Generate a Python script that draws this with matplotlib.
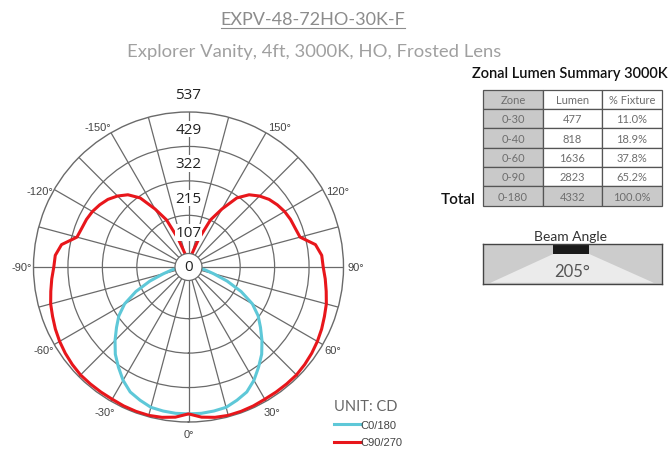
import numpy as np
import matplotlib
matplotlib.use("Agg")
import matplotlib.pyplot as plt
from matplotlib.patches import Circle, Rectangle, Polygon
from matplotlib.lines import Line2D

# ---------------- data ----------------
title = "EXPV-48-72HO-30K-F"
subtitle = "Explorer Vanity, 4ft, 3000K, HO, Frosted Lens"

angles_deg = [0, 5, 10, 15, 20, 25, 30, 35, 40, 45, 50, 55, 60, 65, 70, 75, 80, 85, 90,
              95, 100, 105, 110, 115, 120, 125, 130, 135, 140, 145, 150, 155, 160, 165,
              170, 175, 180]
# candela, C90/270 plane (red)
c90_270 = [458, 470, 476, 479, 479, 478, 476, 476, 476, 476, 473, 469, 464, 458, 451, 445,
           436, 428, 420, 417, 402, 360, 354, 351, 346, 338, 328, 313, 294, 263, 209, 162,
           93, 44, 16, 3, 0]
# candela, C0/180 plane (cyan)
c0_180 = [458, 458, 456, 453, 442, 430, 408, 381, 355, 324, 293, 265, 230, 181, 128, 81,
          53, 34, 19, 6, 0, 0, 0, 0, 0, 0, 0, 0, 0, 0, 0, 0, 0, 0, 0, 0, 0]

ring_labels = ["0", "107", "215", "322", "429", "537"]
ring_step = 107.4
angle_labels = [-150, -120, -90, -60, -30, 0, 30, 60, 90, 120, 150]

zone_header = ["Zone", "Lumen", "% Fixture"]
zones = ["0-30", "0-40", "0-60", "0-90", "0-180"]
lumens = ["477", "818", "1636", "2823", "4332"]
pct_fixture = ["11.0%", "18.9%", "37.8%", "65.2%", "100.0%"]
beam_angle = "205°"

# ---------------- figure ----------------
W, H = 670, 452
fig = plt.figure(figsize=(W / 100, H / 100), dpi=100)
fig.patch.set_facecolor("white")

def fx(px):
    return px / W

def fy(py):
    return 1 - py / H

TITLE_FONT = ["Lato", "DejaVu Sans"]
RED = "#e8161b"
CYAN = "#5ec8d8"
GRID = "#6a6a6a"

# polar chart
cx, cy, R = 188.5, 268, 155
ax = fig.add_axes([fx(cx - R), fy(cy + R), 2 * R / W, 2 * R / H], projection="polar")
ax.set_theta_zero_location("S")
ax.set_theta_direction(1)
rmax = 4.5 * ring_step
ax.set_ylim(0, rmax)
ax.set_rgrids([1.5 * ring_step, 2.5 * ring_step, 3.5 * ring_step], labels=["", "", ""])
ax.set_thetagrids(np.arange(0, 360, 15), labels=[""] * 24)
ax.grid(True, color=GRID, lw=0.9)
ax.spines["polar"].set_color(GRID)
ax.spines["polar"].set_linewidth(1.0)
ax.tick_params(length=0)

a = np.array(angles_deg, dtype=float)
theta_full = np.deg2rad(np.concatenate([-a[::-1], a[1:]]))
red_full = np.concatenate([np.array(c90_270)[::-1], np.array(c90_270)[1:]])
cyan_full = np.concatenate([np.array(c0_180)[::-1], np.array(c0_180)[1:]])

l_cyan, = ax.plot(theta_full, cyan_full, color=CYAN, lw=2.2, zorder=3, label="C0/180",
                  solid_joinstyle="round")
l_red, = ax.plot(theta_full, red_full, color=RED, lw=2.2, zorder=4, label="C90/270",
                 solid_joinstyle="round")

# center hole
ax.add_patch(Circle((0.5, 0.5), 13.5 / (2 * R), transform=ax.transAxes, facecolor="white",
                    edgecolor=GRID, lw=0.9, zorder=6))

# radial labels
for k, lab in enumerate(ring_labels):
    ax.text(np.pi, k * ring_step, lab, ha="center", va="center", fontsize=11,
            family=["Open Sans", "DejaVu Sans"], color="#222222", zorder=7,
            bbox=dict(facecolor="white", edgecolor="none", pad=0.6) if k > 0 else None,
            clip_on=False)

# angle labels (upper ones sit a little nearer the horizontal in the reference)
r_lab = 167 / R * rmax
for ang in angle_labels:
    pos = ang - np.sign(ang) * 3 if abs(ang) > 90 else ang
    ax.text(np.deg2rad(pos), r_lab, f"{ang}°", ha="center", va="center", fontsize=8,
            family=["Liberation Sans", "DejaVu Sans"], color="#444444", clip_on=False)

# legend
leg = fig.legend(handles=[l_cyan, l_red], labels=["C0/180", "C90/270"], title="UNIT: CD",
                 loc="upper left", bbox_to_anchor=(fx(334), fy(400)), frameon=False,
                 handlelength=2.4, handletextpad=0.0, labelspacing=0.65, fontsize=8,
                 title_fontsize=10.5, alignment="left", borderpad=0, borderaxespad=0)
leg.get_title().set_color("#666666")
leg.get_title().set_family(["Lato", "DejaVu Sans"])
for t in leg.get_texts():
    t.set_color("#444444")
    t.set_family(["Liberation Sans", "DejaVu Sans"])

# titles
t1 = fig.text(fx(313), fy(20), title, ha="center", va="center", fontsize=13,
              family=TITLE_FONT, fontweight="normal", color="#8c8c8c")
fig.text(fx(314), fy(52), subtitle, ha="center", va="center", fontsize=13.3,
         family=TITLE_FONT, fontweight="normal", color="#a0a0a0")
fig.text(fx(668), fy(74), "Zonal Lumen Summary 3000K", ha="right", va="center",
         fontsize=10.5, family=TITLE_FONT, fontweight="semibold", color="#111111")
fig.text(fx(458), fy(200), "Total", ha="center", va="center", fontsize=11,
         family=TITLE_FONT, fontweight="semibold", color="#111111")

# underline the title
fig.canvas.draw()
bb = t1.get_window_extent(fig.canvas.get_renderer())
fig.add_artist(Line2D([bb.x0 / W, bb.x1 / W], [(bb.y0 - 1) / H] * 2, color="#8c8c8c", lw=0.8))

# table
tl, tt, tr, tb = 483.3, 90.7, 661.7, 206.7
ax_t = fig.add_axes([fx(tl), fy(tb), (tr - tl) / W, (tb - tt) / H])
ax_t.axis("off")
cell_text = [zone_header] + [[z, l, p] for z, l, p in zip(zones, lumens, pct_fixture)]
tab = ax_t.table(cellText=cell_text, bbox=[0, 0, 1, 1], cellLoc="center")
tab.auto_set_font_size(False)
GRAY_CELL = "#c9c9c9"
nrows = len(cell_text)
for (r, c), cell in tab.get_celld().items():
    cell.set_edgecolor("#555555")
    cell.set_linewidth(0.9)
    gray = (c == 0) or (r == nrows - 1)
    cell.set_facecolor(GRAY_CELL if gray else "white")
    cell.get_text().set_fontsize(8)
    cell.get_text().set_color("#6e6e6e")
    cell.get_text().set_family(["Lato", "DejaVu Sans"])
    cell.get_text().set_fontweight("normal")

# beam angle diagram
bl, bt, br, bbm = 483.3, 245, 661.7, 285
ax_b = fig.add_axes([fx(bl), fy(bbm), (br - bl) / W, (bbm - bt) / H])
ax_b.set_xlim(0, 1)
ax_b.set_ylim(0, 1)
ax_b.set_xticks([])
ax_b.set_yticks([])
ax_b.add_patch(Rectangle((0, 0), 1, 1, facecolor="#cccccc", edgecolor="none"))
ax_b.add_patch(Polygon([(0.392, 0.75), (0.594, 0.75), (0.955, 0.03), (0.04, 0.03)],
                       closed=True, facecolor="#ebebeb", edgecolor="none"))
ax_b.add_patch(Rectangle((0.392, 0.75), 0.202, 0.25, facecolor="#1a1a1a", edgecolor="none"))
for s in ax_b.spines.values():
    s.set_color("#444444")
    s.set_linewidth(1.0)
ax_b.text(0.5, 0.32, beam_angle, ha="center", va="center", fontsize=12,
          family=TITLE_FONT, fontweight="normal", color="#555555")
fig.text(fx(570), fy(237), "Beam Angle", ha="center", va="center", fontsize=10,
         family=TITLE_FONT, fontweight="normal", color="#333333")

fig.savefig("out.png", dpi=100, facecolor="white")
